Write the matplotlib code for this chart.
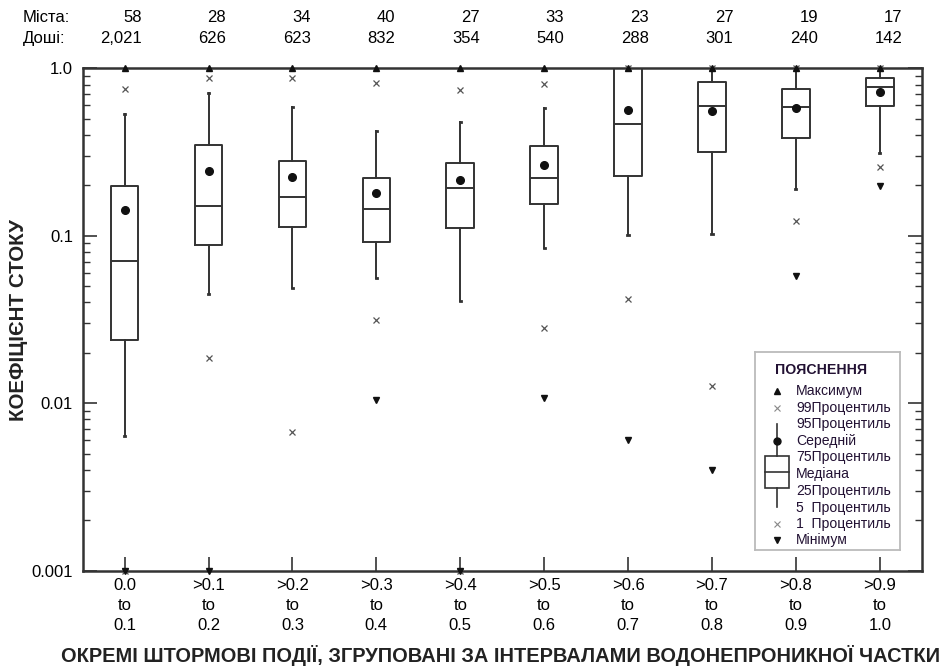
import numpy as np
import matplotlib
matplotlib.use('Agg')
import matplotlib.pyplot as plt
from matplotlib.transforms import blended_transform_factory

# Interval labels (three-line tick labels)
bin_lo = ['0.0', '>0.1', '>0.2', '>0.3', '>0.4', '>0.5', '>0.6', '>0.7', '>0.8', '>0.9']
bin_hi = ['0.1', '0.2', '0.3', '0.4', '0.5', '0.6', '0.7', '0.8', '0.9', '1.0']

# Counts shown above the plot
sites = [58, 28, 34, 40, 27, 33, 23, 27, 19, 17]
storms = [2021, 626, 623, 832, 354, 540, 288, 301, 240, 142]

# Runoff coefficient statistics per interval
p_max = [1.0, 1.0, 1.0, 1.0, 1.0, 1.0, 1.0, 1.0, 1.0, 1.0]
p99 = [0.75, 0.88, 0.88, 0.814, 0.745, 0.803, 1.0, 1.0, 1.0, 1.0]
p95 = [0.532, 0.715, 0.585, 0.423, 0.481, 0.582, 1.0, 1.0, 1.0, 1.0]
p75 = [0.199, 0.349, 0.281, 0.221, 0.271, 0.345, 1.0, 0.825, 0.753, 0.879]
mean = [0.143, 0.245, 0.223, 0.180, 0.215, 0.265, 0.564, 0.559, 0.577, 0.725]
median = [0.0703, 0.151, 0.170, 0.144, 0.194, 0.221, 0.464, 0.593, 0.590, 0.774]
p25 = [0.0238, 0.0875, 0.113, 0.0917, 0.112, 0.1545, 0.229, 0.316, 0.3825, 0.598]
p5 = [0.00633, 0.0449, 0.049, 0.056, 0.0408, 0.0845, 0.1004, 0.1028, 0.1907, 0.311]
p1 = [0.001, 0.0185, 0.00671, 0.0314, 0.001, 0.028, 0.042, 0.0126, 0.1229, 0.259]
p_min = [0.001, 0.001, np.nan, 0.0105, 0.001, 0.0107, 0.0060, 0.00402, 0.0575, 0.1995]

plt.rcParams['font.family'] = ['Liberation Sans', 'DejaVu Sans']
ink = '#333333'

W, H = 946, 669
fig = plt.figure(figsize=(W / 100, H / 100), dpi=100)
ax = fig.add_axes([82.7 / W, 1 - 570.7 / H, (921.7 - 82.7) / W, (570.7 - 68.3) / H])

pos = np.arange(len(bin_lo))
stats = []
for i in range(len(pos)):
    stats.append(dict(med=median[i], q1=p25[i], q3=p75[i], whislo=p5[i],
                      whishi=p95[i], mean=mean[i], fliers=[]))

lp = dict(color=ink, linewidth=1.4)
ax.bxp(stats, positions=pos, widths=0.33, showmeans=True, showfliers=False,
       boxprops=lp, medianprops=lp, whiskerprops=lp,
       capprops=dict(color=ink, linewidth=2.0), capwidths=0.015,
       meanprops=dict(marker='o', markerfacecolor='#111111', markeredgecolor='#111111',
                      markersize=5.5))

ax.plot(pos, p99, 'x', color='#555555', ms=5, mew=0.9, clip_on=False, zorder=4)
ax.plot(pos, p1, 'x', color='#555555', ms=5, mew=0.9, clip_on=False, zorder=4)
ax.plot(pos, p_max, '^', color='#111111', ms=5, clip_on=False, zorder=5)
ax.plot(pos, p_min, 'v', color='#111111', ms=5, clip_on=False, zorder=5)

ax.set_yscale('log')
ax.set_ylim(0.001, 1.0)
ax.set_xlim(-0.5, len(pos) - 0.5)
ax.set_yticks([0.001, 0.01, 0.1, 1.0])
ax.set_yticklabels(['0.001', '0.01', '0.1', '1.0'])
ax.set_xticks(pos)
ax.set_xticklabels([f'{a}\nto\n{b}' for a, b in zip(bin_lo, bin_hi)], linespacing=1.45)
ax.tick_params(axis='y', which='major', direction='in', length=10, width=1.2,
               left=True, right=True, labelsize=12, pad=7, color=ink)
ax.tick_params(axis='y', which='minor', direction='in', length=5, width=1.0,
               left=True, right=True, color=ink)
ax.tick_params(axis='x', direction='in', length=10, width=1.2, labelsize=12,
               pad=5, color=ink)
for s in ax.spines.values():
    s.set_linewidth(1.8)
    s.set_color(ink)

# counts across the top
tr = blended_transform_factory(ax.transData, fig.transFigure)
fig.text(23 / W, 1 - 21.7 / H, 'Міста:', fontsize=12, ha='left', va='baseline')
fig.text(23 / W, 1 - 43 / H, 'Доші:', fontsize=12, ha='left', va='baseline')
for i in range(len(pos)):
    xr = pos[i] + 0.2 + 0.008 * pos[i]
    ax.text(xr, 1 - 21.7 / H, str(sites[i]), transform=tr, fontsize=12,
            ha='right', va='baseline')
    ax.text(xr, 1 - 43 / H, f'{storms[i]:,}', transform=tr, fontsize=12,
            ha='right', va='baseline')

fig.text(18 / W, 1 - 320 / H, 'КОЕФІЦІЄНТ СТОКУ', rotation=90, fontsize=14.8,
         fontweight='bold', ha='center', va='center', color='#222222')
fig.text(501 / W, 1 - 656 / H,
         'ОКРЕМІ ШТОРМОВІ ПОДІЇ, ЗГРУПОВАНІ ЗА ІНТЕРВАЛАМИ ВОДОНЕПРОНИКНОЇ ЧАСТКИ',
         fontsize=14.4, fontweight='bold', ha='center', va='center', color='#222222')

# explanation box (drawn in pixel units of its own small axes)
lg = fig.add_axes([755 / W, 1 - 550 / H, 145 / W, 198 / H])
lg.set_xlim(755, 900)
lg.set_ylim(550, 352)
lg.set_xticks([])
lg.set_yticks([])
for s in lg.spines.values():
    s.set_color('#bbbbbb')
    s.set_linewidth(1.3)
lg.text(775, 370, 'ПОЯСНЕННЯ', fontsize=10.2, fontweight='bold', va='center',
        color='#221133')
legend_rows = ['Максимум', '99Процентиль', '95Процентиль', 'Середній', '75Процентиль',
               'Медіана', '25Процентиль', '5  Процентиль', '1  Процентиль', 'Мінімум']
row_y = [391, 408, 424, 441, 457, 474, 491, 508, 524, 540]
for label, yy in zip(legend_rows, row_y):
    lg.text(796, yy, label, fontsize=10.1, va='center', color='#221133')
lg.plot([777], [391], '^', color='#111111', ms=4.5)
lg.plot([777], [408], 'x', color='#888888', ms=4.5, mew=0.8)
lg.plot([777], [524], 'x', color='#888888', ms=4.5, mew=0.8)
lg.plot([777], [540], 'v', color='#111111', ms=4.5)
lg.plot([777, 777], [424, 456], color=ink, lw=1.2)
lg.plot([777, 777], [488, 507], color=ink, lw=1.2)
lg.plot([777], [441], 'o', color='#111111', ms=5)
lg.add_patch(plt.Rectangle((765, 456), 24, 32, fill=False, edgecolor=ink, lw=1.2))
lg.plot([765, 789], [472, 472], color=ink, lw=1.2)

fig.savefig('out.png', dpi=100)
